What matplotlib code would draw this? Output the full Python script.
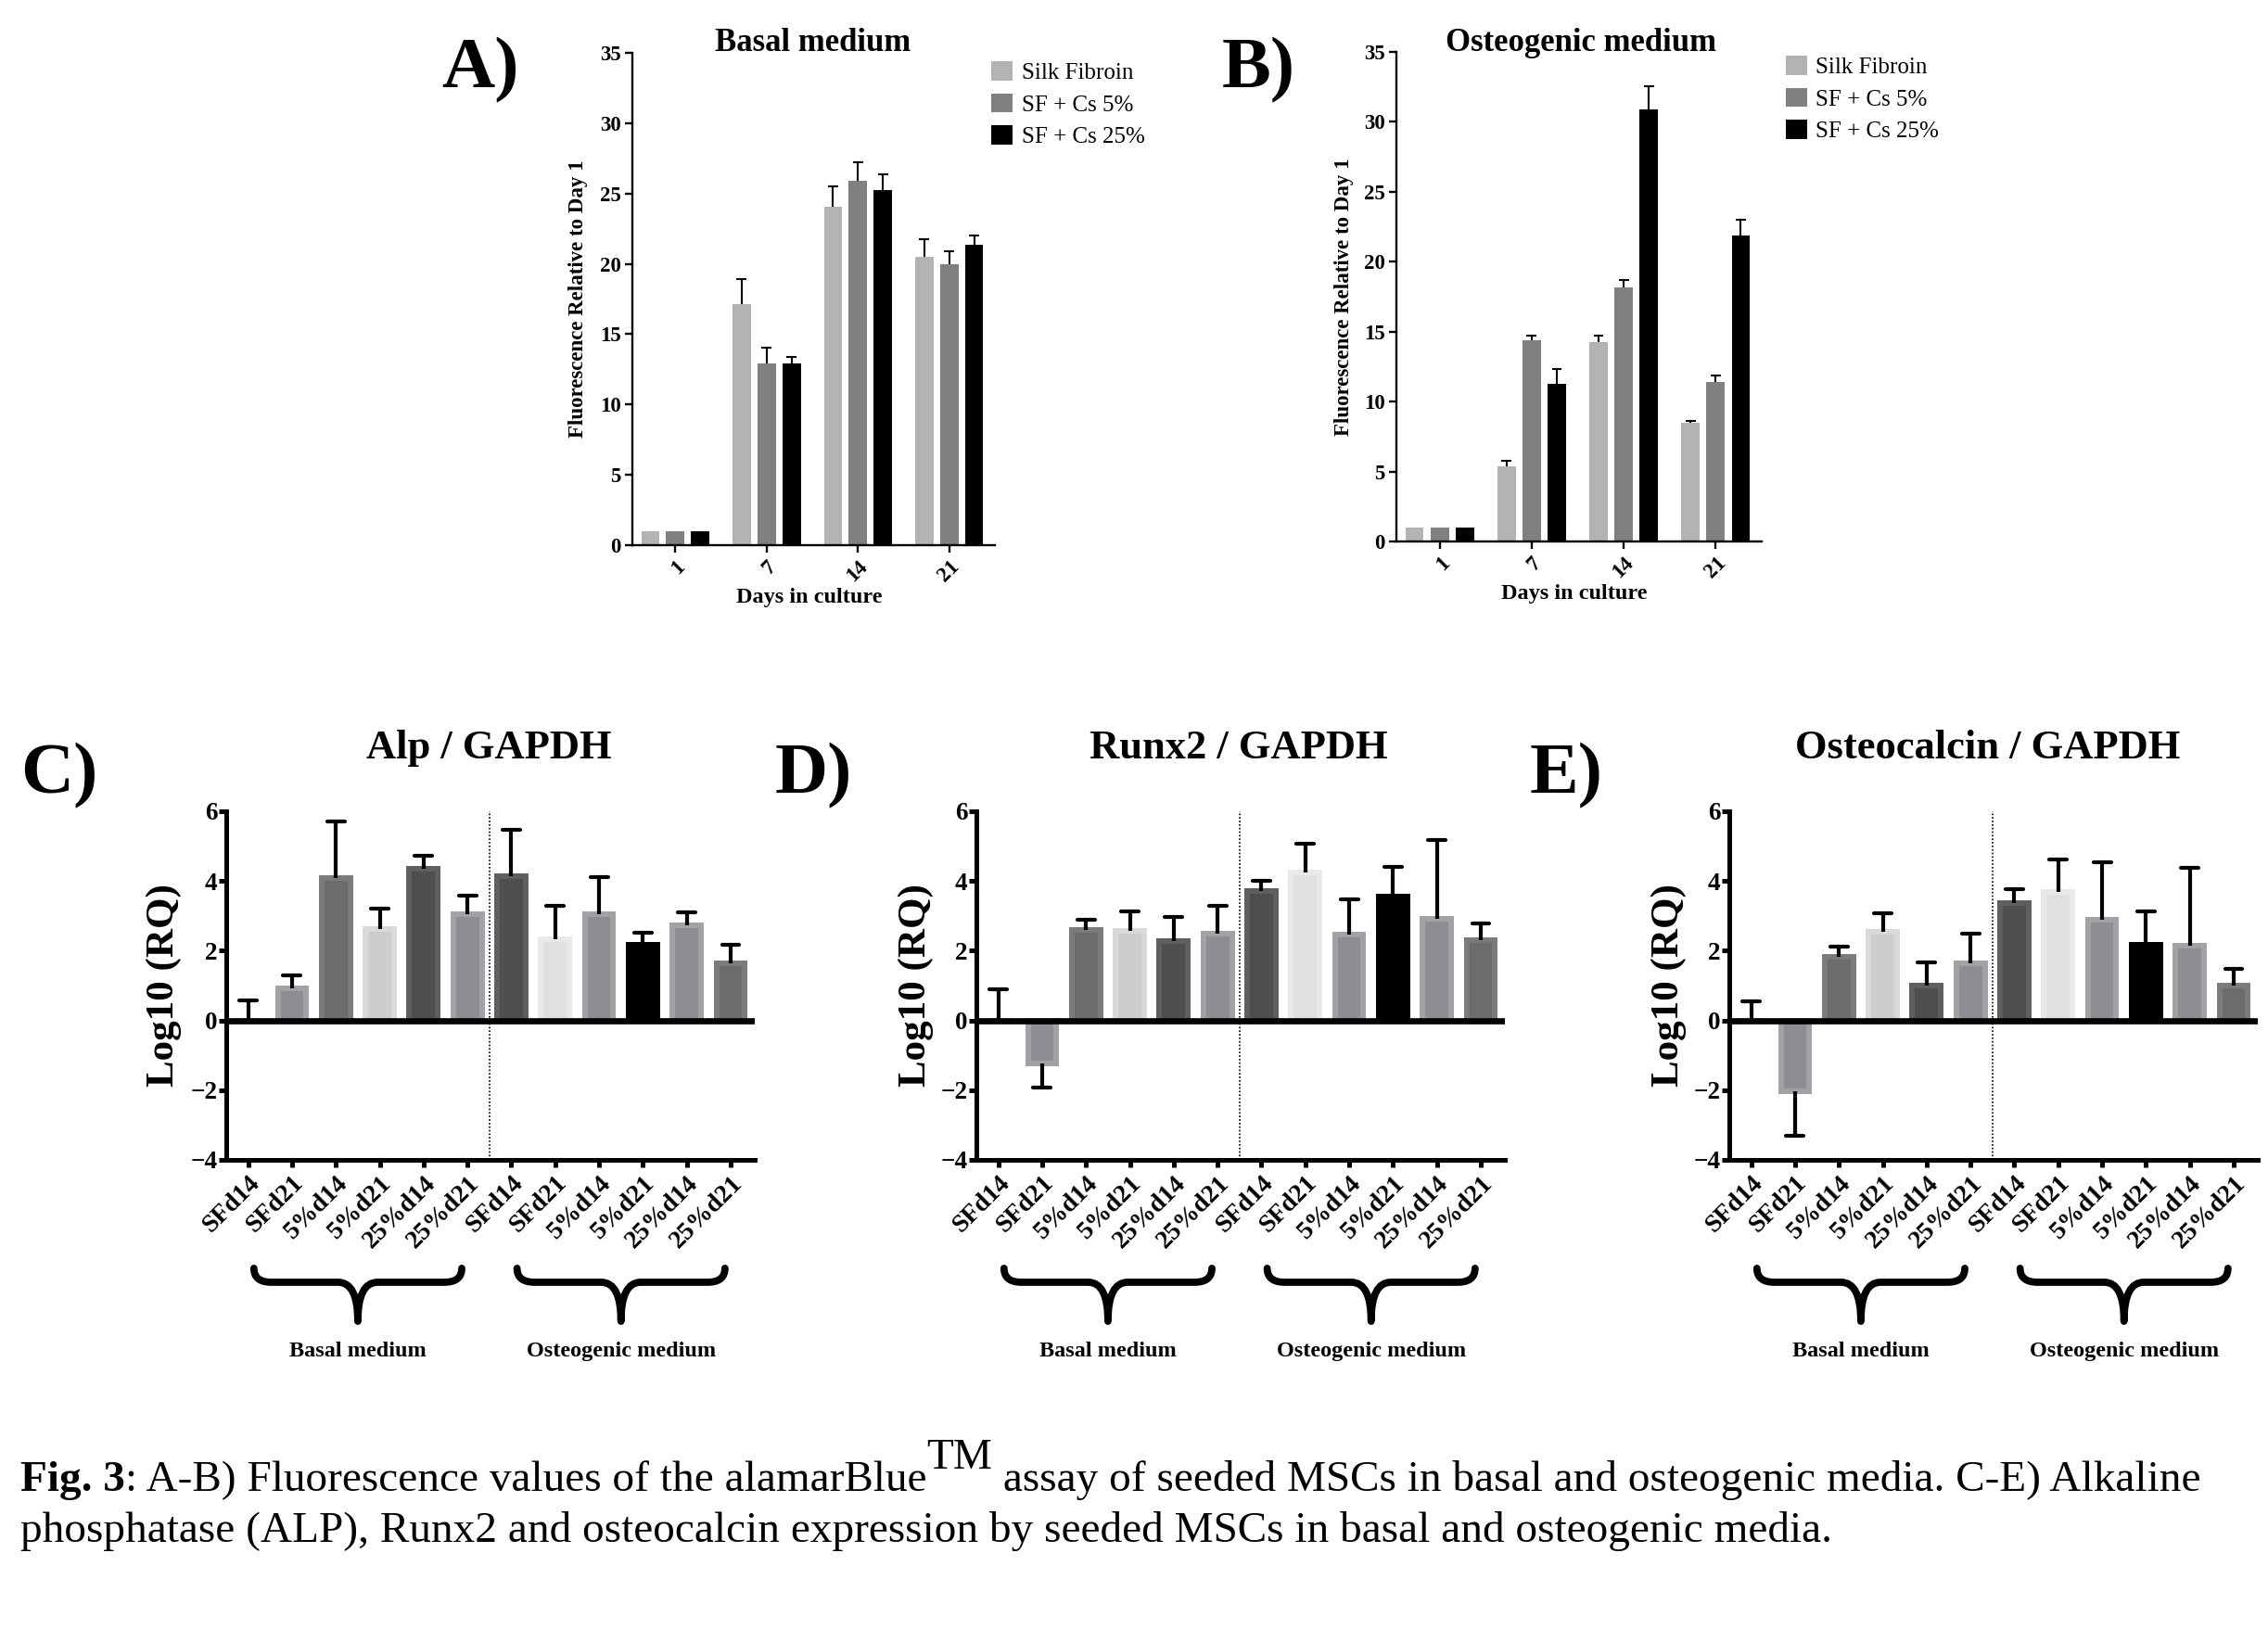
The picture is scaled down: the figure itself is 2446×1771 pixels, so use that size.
import numpy as np
import matplotlib
matplotlib.use("Agg")
import matplotlib.pyplot as plt
from matplotlib.path import Path
from matplotlib.patches import PathPatch, Patch

plt.rcParams['font.family'] = ['Liberation Serif', 'DejaVu Serif']

W, H, DPI = 2446, 1771, 100

# ---------------- data ----------------
days = ['1', '7', '14', '21']
series_names = ['Silk Fibroin', 'SF + Cs 5%', 'SF + Cs 25%']

basal_sf = [1.0, 17.17, 24.03, 20.52]
basal_cs5 = [1.0, 12.95, 25.89, 19.97]
basal_cs25 = [1.0, 12.92, 25.26, 21.37]
basal_sf_err = [0.0, 1.73, 1.50, 1.26]
basal_cs5_err = [0.0, 1.12, 1.34, 0.93]
basal_cs25_err = [0.0, 0.49, 1.10, 0.65]

osteo_sf = [1.0, 5.40, 14.24, 8.51]
osteo_cs5 = [1.0, 14.38, 18.18, 11.39]
osteo_cs25 = [1.0, 11.30, 30.90, 21.89]
osteo_sf_err = [0.0, 0.34, 0.50, 0.14]
osteo_cs5_err = [0.0, 0.36, 0.50, 0.50]
osteo_cs25_err = [0.0, 1.00, 1.66, 1.08]

conditions = ['SFd14', 'SFd21', '5%d14', '5%d21', '25%d14', '25%d21',
              'SFd14', 'SFd21', '5%d14', '5%d21', '25%d14', '25%d21']
groups = ['Basal medium', 'Osteogenic medium']

alp_vals = [0.0, 0.92, 4.08, 2.63, 4.35, 3.05, 4.15, 2.34, 3.06, 2.17, 2.72, 1.63]
alp_errs = [0.57, 0.38, 1.63, 0.58, 0.37, 0.53, 1.33, 0.94, 1.04, 0.34, 0.39, 0.55]
runx2_vals = [0.0, -1.24, 2.59, 2.56, 2.28, 2.50, 3.72, 4.25, 2.45, 3.54, 2.92, 2.31]
runx2_errs = [0.89, 0.69, 0.30, 0.57, 0.68, 0.80, 0.29, 0.83, 1.03, 0.87, 2.25, 0.48]
ocn_vals = [0.0, -2.03, 1.82, 2.53, 1.00, 1.65, 3.36, 3.69, 2.88, 2.17, 2.14, 1.00]
ocn_errs = [0.55, 1.27, 0.29, 0.55, 0.66, 0.85, 0.40, 0.94, 1.65, 0.96, 2.23, 0.49]

# ---------------- styles ----------------
fluor_colors = ['#b3b3b3', '#808080', '#000000']
rq_fill = ['#8d8d92', '#8d8d92', '#6c6c6c', '#cdcdcd', '#4e4e4e', '#8d8d92',
           '#4e4e4e', '#e0e0e0', '#8d8d92', '#000000', '#8d8d92', '#6c6c6c']
rq_edge = ['#a2a2a6', '#a2a2a6', '#7b7b7b', '#d9d9d9', '#5f5f5f', '#a2a2a6',
           '#5f5f5f', '#e9e9e9', '#a2a2a6', '#000000', '#a2a2a6', '#7b7b7b']

fig = plt.figure(figsize=(W / DPI, H / DPI), dpi=DPI)
fig.patch.set_facecolor('white')


def fig_axes(left, top, right, bottom):
    return fig.add_axes([left / W, 1 - bottom / H, (right - left) / W, (bottom - top) / H])


def ftext(x, y, s, **kw):
    return fig.text(x / W, 1 - y / H, s, **kw)


# ---------------- panels A, B ----------------
def fluor_panel(box, vals, errs, title, title_x, legend_xy, ylab_x, xlab_y, letter, letter_x):
    ax = fig_axes(*box)
    x = np.arange(len(days))
    for k, (v, e, c, name) in enumerate(zip(vals, errs, fluor_colors, series_names)):
        v = np.asarray(v, float)
        e = np.asarray(e, float)
        pos = x + (k - 1) * 0.273
        ax.bar(pos, v, width=0.2, color=c, edgecolor='none', zorder=2, label=name)
        m = e > 0
        ax.vlines(pos[m], v[m], v[m] + e[m], color='k', lw=1.5, zorder=3)
        ax.hlines(v[m] + e[m], pos[m] - 0.055, pos[m] + 0.055, color='k', lw=1.5, zorder=3)
    ax.set_xlim(-0.47, 3.5)
    ax.set_ylim(0, 35)
    ax.set_yticks(np.arange(0, 36, 5))
    ax.set_xticks(x)
    ax.set_xticklabels(days, rotation=45, ha='right', rotation_mode='anchor')
    for s in ['top', 'right']:
        ax.spines[s].set_visible(False)
    for s in ['left', 'bottom']:
        ax.spines[s].set_linewidth(1.7)
    ax.tick_params(direction='out', length=6, width=1.7, labelsize=16.5, pad=3)
    for lab in ax.get_xticklabels() + ax.get_yticklabels():
        lab.set_fontweight('bold')
    handles = [Patch(facecolor=c, edgecolor='none') for c in fluor_colors]
    ax.legend(handles, series_names, loc='upper left',
              bbox_to_anchor=(legend_xy[0] / W, 1 - legend_xy[1] / H),
              bbox_transform=fig.transFigure, frameon=False, prop={'size': 18},
              handlelength=0.9, handleheight=0.9, handletextpad=0.4,
              labelspacing=0.42, borderaxespad=0, borderpad=0)
    ftext(title_x, 55, title, fontsize=25, fontweight='bold', ha='center', va='baseline')
    ftext(ylab_x, (box[1] + box[3]) / 2, 'Fluorescence Relative to Day 1', fontsize=16.5,
          fontweight='bold', rotation=90, ha='center', va='center')
    ftext((box[0] + box[2]) / 2 - 5, xlab_y, 'Days in culture', fontsize=17.5,
          fontweight='bold', ha='center', va='baseline')
    ftext(letter_x, 94, letter, fontsize=57, fontweight='bold', ha='left', va='baseline')
    return ax


fluor_panel((682, 57, 1073, 588),
            [basal_sf, basal_cs5, basal_cs25],
            [basal_sf_err, basal_cs5_err, basal_cs25_err],
            'Basal medium', 877, (1069, 66), 623, 650, 'A)', 476)
fluor_panel((1506, 56, 1900, 584),
            [osteo_sf, osteo_cs5, osteo_cs25],
            [osteo_sf_err, osteo_cs5_err, osteo_cs25_err],
            'Osteogenic medium', 1705, (1926, 60), 1450, 646, 'B)', 1318)


# ---------------- panels C, D, E ----------------
def brace(ax, xc, half, ytop, ymid, ytip, r_end=0.4, r_mid=0.45):
    verts = [(xc - half, ytop), (xc - half, ymid), (xc - half + r_end, ymid),
             (xc - r_mid, ymid), (xc, ymid), (xc, ytip),
             (xc, ymid), (xc + r_mid, ymid),
             (xc + half - r_end, ymid), (xc + half, ymid), (xc + half, ytop)]
    codes = [Path.MOVETO, Path.CURVE3, Path.CURVE3,
             Path.LINETO, Path.CURVE3, Path.CURVE3,
             Path.CURVE3, Path.CURVE3,
             Path.LINETO, Path.CURVE3, Path.CURVE3]
    p = PathPatch(Path(verts, codes), fill=False, lw=5.6, color='k',
                  capstyle='round', joinstyle='round', clip_on=False)
    ax.add_patch(p)


def rq_panel(left, vals, errs, title, title_x, letter, letter_x, ylab_x):
    ax = fig_axes(left, 875, left + 570, 1251)
    x = np.arange(len(conditions))
    v = np.asarray(vals, float)
    e = np.asarray(errs, float)
    ax.bar(x, v, width=0.65, color=rq_fill, edgecolor=rq_edge, linewidth=4.3, zorder=2)
    sign = np.where(v < 0, -1.0, 1.0)
    ends = v + sign * e
    ax.vlines(x, v, ends, color='k', lw=3.0, zorder=3)
    hc = ax.hlines(ends, x - 0.2, x + 0.2, color='k', lw=3.0, zorder=3)
    hc.set_capstyle('round')
    ax.axhline(0, color='k', lw=4.8, zorder=4)
    ax.axvline(5.5, color='k', lw=1.2, ls=(0, (1, 1.3)), zorder=1)
    ax.set_xlim(-0.5, 11.55)
    ax.set_ylim(-4, 6)
    ax.set_yticks([-4, -2, 0, 2, 4, 6])
    ax.set_xticks(x)
    ax.set_xticklabels(conditions, rotation=45, ha='right', rotation_mode='anchor')
    for s in ['top', 'right']:
        ax.spines[s].set_visible(False)
    for s in ['left', 'bottom']:
        ax.spines[s].set_linewidth(3.6)
    ax.tick_params(direction='out', length=6, width=3.6, pad=3)
    ax.tick_params(axis='y', labelsize=19.5, pad=1)
    ax.tick_params(axis='x', labelsize=20)
    for lab in ax.get_xticklabels() + ax.get_yticklabels():
        lab.set_fontweight('bold')
    for gc, g in zip([2.5, 8.5], groups):
        brace(ax, gc, 2.37, -7.11, -7.51, -8.63)
        ax.text(gc, -9.64, g, fontsize=17.5, fontweight='bold', ha='center',
                va='baseline', clip_on=False)
    ftext(title_x, 818, title, fontsize=32, fontweight='bold', ha='center', va='baseline')
    ftext(letter_x, 855, letter, fontsize=57, fontweight='bold', ha='left', va='baseline')
    ftext(ylab_x, 1063, 'Log10 (RQ)', fontsize=31, fontweight='bold', rotation=90,
          ha='center', va='center')
    return ax


rq_panel(244, alp_vals, alp_errs, 'Alp / GAPDH', 527, 'C)', 22, 177)
rq_panel(1053, runx2_vals, runx2_errs, 'Runx2 / GAPDH', 1336, 'D)', 836, 988)
rq_panel(1865, ocn_vals, ocn_errs, 'Osteocalcin / GAPDH', 2144, 'E)', 1650, 1800)

# ---------------- caption ----------------
line1 = [("Fig. 3", 'bold', 1.0, 0),
         (": A-B) Fluorescence values of the alamarBlue", 'normal', 1.0, 0),
         ("TM", 'normal', 1.0, 24),
         (" assay of seeded MSCs in basal and osteogenic media. C-E) Alkaline", 'normal', 1.0, 0)]
line2 = [("phosphatase (ALP), Runx2 and osteocalcin expression by seeded MSCs in basal and osteogenic media.",
          'normal', 1.0, 0)]


def lay(pieces, x0, y0, size):
    r = fig.canvas.get_renderer()
    x = x0
    objs = []
    for s, w, sf, dy in pieces:
        t = ftext(x, y0 - dy, s, fontsize=size * sf, fontweight=w, ha='left', va='baseline')
        bb = t.get_window_extent(renderer=r)
        x += bb.width
        objs.append(t)
    return x, objs


base = 30.0
xend, objs = lay(line1, 22, 1608, base)
for o in objs:
    o.remove()
size = base * (2371 - 22) / (xend - 22)
lay(line1, 22, 1608, size)
lay(line2, 22, 1663, size)

fig.savefig('out.png', dpi=DPI, facecolor='white')
